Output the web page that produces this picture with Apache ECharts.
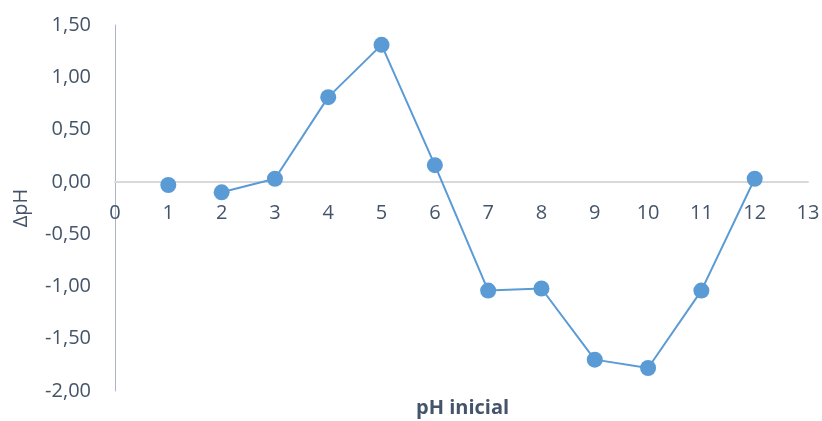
<!DOCTYPE html>
<html>
<head>
<meta charset="utf-8">
<script src="https://cdn.jsdelivr.net/npm/echarts@6/dist/echarts.min.js"></script>
<style>
  html, body { margin: 0; padding: 0; background: #fff; }
  #chart { width: 822px; height: 421px; }
</style>
</head>
<body>
<div id="chart"></div>
<script>
// Initial pH of each sample and the resulting pH change
const phInicial = [1, 2, 3, 4, 5, 6, 7, 8, 9, 10, 11, 12];
const deltaPH = [-0.03, -0.10, 0.03, 0.81, 1.31, 0.16, -1.04, -1.02, -1.70, -1.78, -1.04, 0.03];
// Index from which readings are joined by a line (the first reading stands alone)
const firstJoined = 1;

const xTicks = { min: 0, max: 13, step: 1 };
const yTicks = { min: -2, max: 1.5, step: 0.5 };

const blue = '#5B9BD5';
const textColor = '#44546A';
const font = '"Open Sans", "DejaVu Sans", sans-serif';

const points = phInicial.map((x, i) => [x, deltaPH[i]]);

// Plot box in pixels
const gridTop = 25, gridBottom = 30, chartH = 421;
const plotH = chartH - gridTop - gridBottom;
// Distance from the bottom of the plot up to the zero line
const zeroLift = plotH * (0 - yTicks.min) / (yTicks.max - yTicks.min);

const chart = echarts.init(document.getElementById('chart'), null, { renderer: 'canvas' });

chart.setOption({
  animation: false,
  grid: { left: 115, right: 14, top: gridTop, bottom: gridBottom, outerBoundsMode: 'none', containLabel: false },
  xAxis: {
    type: 'value',
    min: xTicks.min,
    max: xTicks.max,
    interval: xTicks.step,
    position: 'bottom',
    offset: -zeroLift,
    axisLine: { onZero: false, lineStyle: { color: '#D9D9D9', width: 2 } },
    axisTick: { show: false },
    splitLine: { show: false },
    axisLabel: { color: textColor, fontSize: 20, fontFamily: font, margin: 21 }
  },
  yAxis: {
    type: 'value',
    min: yTicks.min,
    max: yTicks.max,
    interval: yTicks.step,
    name: 'ΔpH',
    nameLocation: 'middle',
    nameGap: 84,
    nameTextStyle: { color: textColor, fontSize: 20, fontFamily: font },
    axisLine: { show: true, onZero: false, lineStyle: { color: '#A9B6C8', width: 1 } },
    axisTick: { show: false },
    splitLine: { show: false },
    axisLabel: {
      color: textColor, fontSize: 20, fontFamily: font, margin: 24,
      formatter: v => v.toFixed(2).replace('.', ',')
    }
  },
  graphic: [{
    type: 'text',
    left: 416,
    top: 398,
    style: {
      text: 'pH inicial',
      fill: textColor,
      font: 'bold 20px ' + font
    }
  }],
  series: [
    {
      type: 'line',
      data: points.slice(firstJoined),
      symbol: 'circle',
      symbolSize: 16,
      lineStyle: { color: blue, width: 2 },
      itemStyle: { color: blue, opacity: 1 }
    },
    {
      type: 'scatter',
      data: points.slice(0, firstJoined),
      symbol: 'circle',
      symbolSize: 16,
      itemStyle: { color: blue, opacity: 1 }
    }
  ]
});
</script>
</body>
</html>
